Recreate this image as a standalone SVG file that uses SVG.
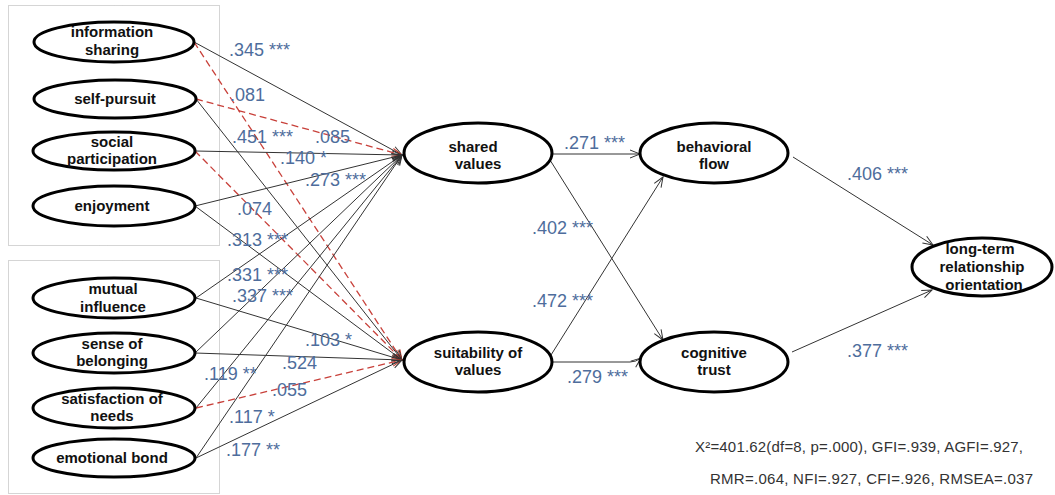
<svg xmlns="http://www.w3.org/2000/svg" width="1055" height="495" viewBox="0 0 1055 495">
<defs>
<marker id="ah" markerWidth="12" markerHeight="10" refX="11" refY="5" orient="auto" markerUnits="userSpaceOnUse"><path d="M1,1 L11,5 L1,9" fill="none" stroke="#333" stroke-width="1"/></marker>
<marker id="ahr" markerWidth="12" markerHeight="10" refX="11" refY="5" orient="auto" markerUnits="userSpaceOnUse"><path d="M1,1 L11,5 L1,9" fill="none" stroke="#c0392b" stroke-width="1"/></marker>
</defs>
<style>
.node ellipse{fill:#fff;stroke:#000;stroke-width:3}
.node text{font-family:"Liberation Sans",Arial,sans-serif;font-weight:bold;font-size:15px;fill:#111;text-anchor:middle}
.box{fill:none;stroke:#aaa;stroke-width:1;stroke-dasharray:1,1}
.s{stroke:#333;stroke-width:1;fill:none;marker-end:url(#ah)}
.d{stroke:#c8403a;stroke-width:1.3;fill:none;stroke-dasharray:7,4;marker-end:url(#ahr)}
.lbl{font-family:"Liberation Sans",Arial,sans-serif;font-size:18px;fill:#4e6d9c}
.fit{font-family:"Liberation Sans",Arial,sans-serif;font-size:15px;fill:#333}
</style>
<rect width="1055" height="495" fill="#fff"/>
<rect class="box" x="8.5" y="5.5" width="211" height="240"/>
<rect class="box" x="8.5" y="260.5" width="211" height="233"/>
<g id="connectors">
<line class="s" x1="194" y1="42" x2="402" y2="155"/>
<line class="d" x1="194" y1="42" x2="402" y2="360"/>
<line class="d" x1="196" y1="99" x2="402" y2="155"/>
<line class="s" x1="196" y1="99" x2="402" y2="360"/>
<line class="s" x1="195" y1="151" x2="402" y2="155"/>
<line class="d" x1="195" y1="151" x2="402" y2="360"/>
<line class="s" x1="195" y1="206" x2="402" y2="155"/>
<line class="s" x1="195" y1="206" x2="402" y2="360"/>
<line class="s" x1="196" y1="298" x2="402" y2="155"/>
<line class="s" x1="196" y1="298" x2="402" y2="360"/>
<line class="s" x1="195" y1="353" x2="402" y2="155"/>
<line class="s" x1="195" y1="353" x2="402" y2="360"/>
<line class="s" x1="196" y1="408" x2="402" y2="155"/>
<line class="d" x1="196" y1="408" x2="402" y2="360"/>
<line class="s" x1="196" y1="458" x2="402" y2="155"/>
<line class="s" x1="196" y1="458" x2="402" y2="360"/>
<line class="s" x1="552" y1="154" x2="640" y2="154"/>
<line class="s" x1="550" y1="160" x2="663" y2="340"/>
<line class="s" x1="551" y1="355" x2="663" y2="177"/>
<path class="s" d="M552,362 L630,362 Q636,362 641,358"/>
<line class="s" x1="793" y1="157" x2="933" y2="245"/>
<line class="s" x1="792" y1="352" x2="932" y2="290"/>
</g>
<g id="info-sharing" class="node"><ellipse cx="114" cy="42" rx="80" ry="20"/><text x="112" y="37">information</text><text x="112" y="55">sharing</text></g>
<g id="self-pursuit" class="node"><ellipse cx="115" cy="99" rx="81" ry="19"/><text x="115" y="104">self-pursuit</text></g>
<g id="social-participation" class="node"><ellipse cx="114" cy="151" rx="81" ry="19"/><text x="112" y="147">social</text><text x="112" y="164">participation</text></g>
<g id="enjoyment" class="node"><ellipse cx="114" cy="206" rx="81" ry="20"/><text x="112" y="211">enjoyment</text></g>
<g id="mutual-influence" class="node"><ellipse cx="114" cy="298" rx="81" ry="20"/><text x="113" y="294">mutual</text><text x="113" y="312">influence</text></g>
<g id="sense-of-belonging" class="node"><ellipse cx="114" cy="353" rx="81" ry="20"/><text x="112" y="349">sense of</text><text x="112" y="366">belonging</text></g>
<g id="satisfaction-of-needs" class="node"><ellipse cx="114" cy="408" rx="81" ry="20"/><text x="112" y="404">satisfaction of</text><text x="112" y="421">needs</text></g>
<g id="emotional-bond" class="node"><ellipse cx="114" cy="458" rx="81" ry="19"/><text x="112" y="463">emotional bond</text></g>
<g id="shared-values" class="node"><ellipse cx="478" cy="153" rx="74" ry="30"/><text x="473" y="152">shared</text><text x="478" y="169">values</text></g>
<g id="suitability-of-values" class="node"><ellipse cx="478" cy="362" rx="74" ry="30"/><text x="478" y="358">suitability of</text><text x="478" y="375">values</text></g>
<g id="behavioral-flow" class="node"><ellipse cx="714" cy="153" rx="74" ry="30"/><text x="714" y="152">behavioral</text><text x="714" y="169">flow</text></g>
<g id="cognitive-trust" class="node"><ellipse cx="714" cy="362" rx="74" ry="30"/><text x="714" y="358">cognitive</text><text x="714" y="375">trust</text></g>
<g id="long-term" class="node"><ellipse cx="982" cy="267" rx="70" ry="29"/><text x="980" y="254">long-term</text><text x="982" y="272">relationship</text><text x="984" y="290">orientation</text></g>
<g id="labels">
<text class="lbl" x="229" y="56">.345 ***</text>
<text class="lbl" x="230" y="101">.081</text>
<text class="lbl" x="232" y="143">.451 ***</text>
<text class="lbl" x="315" y="143">.085</text>
<text class="lbl" x="280" y="164">.140 *</text>
<text class="lbl" x="305" y="186">.273 ***</text>
<text class="lbl" x="237" y="215">.074</text>
<text class="lbl" x="227" y="246">.313 ***</text>
<text class="lbl" x="227" y="281">.331 ***</text>
<text class="lbl" x="232" y="302">.337 ***</text>
<text class="lbl" x="305" y="346">.103 *</text>
<text class="lbl" x="282" y="369">.524</text>
<text class="lbl" x="204" y="380">.119 **</text>
<text class="lbl" x="272" y="396">.055</text>
<text class="lbl" x="229" y="423">.117 *</text>
<text class="lbl" x="226" y="456">.177 **</text>
<text class="lbl" x="564" y="149">.271 ***</text>
<text class="lbl" x="532" y="234">.402 ***</text>
<text class="lbl" x="532" y="307">.472 ***</text>
<text class="lbl" x="567" y="383">.279 ***</text>
<text class="lbl" x="847" y="180">.406 ***</text>
<text class="lbl" x="847" y="357">.377 ***</text>
</g>
<text class="fit" x="695" y="452" textLength="328">X²=401.62(df=8, p=.000), GFI=.939, AGFI=.927,</text>
<text class="fit" x="710" y="484" textLength="323">RMR=.064, NFI=.927, CFI=.926, RMSEA=.037</text>
</svg>
